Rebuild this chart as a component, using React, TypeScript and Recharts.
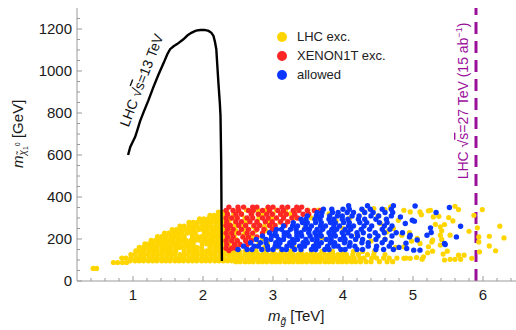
import React from 'react';
import { ComposedChart, Scatter, Line, XAxis, YAxis, ReferenceLine, Legend } from 'recharts';

const FONT = '"Liberation Sans", Arial, Helvetica, sans-serif';
const FRAME = '#9a9a9a';
const YELLOW = '#FFD500';
const RED = '#FF2626';
const BLUE = '#0A36FF';
const PURPLE = '#9B109B';

// axis ticks (minor + major)
const gluinoTicks = [0.4, 0.6, 0.8, 1, 1.2, 1.4, 1.6, 1.8, 2, 2.2, 2.4, 2.6, 2.8, 3, 3.2, 3.4, 3.6, 3.8, 4, 4.2, 4.4, 4.6, 4.8, 5, 5.2, 5.4, 5.6, 5.8, 6, 6.2, 6.4];
const neutralinoTicks = [0, 50, 100, 150, 200, 250, 300, 350, 400, 450, 500, 550, 600, 650, 700, 750, 800, 850, 900, 950, 1000, 1050, 1100, 1150, 1200, 1250];
const gluinoMajor = [1, 2, 3, 4, 5, 6];
const neutralinoMajor = [0, 200, 400, 600, 800, 1000, 1200];

// LHC 13 TeV exclusion contour (TeV, GeV)
const lhc13X = [0.93, 0.96, 1.0, 1.03, 1.06, 1.1, 1.15, 1.22, 1.29, 1.36, 1.44, 1.49, 1.53, 1.58, 1.63, 1.72, 1.78, 1.84, 1.9, 1.96, 2.02, 2.08, 2.12, 2.15, 2.17, 2.19, 2.2, 2.22, 2.24, 2.25, 2.26, 2.265, 2.27];
const lhc13Y = [600, 637, 665, 685, 716, 760, 803, 860, 922, 980, 1040, 1080, 1104, 1118, 1128, 1151, 1170, 1183, 1192, 1195, 1196, 1191, 1182, 1167, 1140, 1104, 1050, 945, 850, 788, 566, 300, 95];
const lhc27Reach = 5.9;

// scan points, grouped by row: [m_chi (GeV), m_gluino list (TeV)]
const lhcExcRows: [number, number[]][] = [
  [60, [0.43, 0.48]],
  [88, [0.72, 0.78, 0.85, 0.91]],
  [96, [0.96, 1.03, 1.09, 1.15, 1.22, 1.28, 1.34, 1.41, 1.47, 1.53, 1.6, 1.66, 1.72, 1.79, 1.85, 1.91, 1.98, 2.04, 2.1, 2.17, 2.23, 2.29, 2.35, 2.41]],
  [109, [0.84, 0.9, 0.97, 1.04, 1.1, 1.16, 1.23, 1.29, 1.35, 1.42, 1.48, 1.54, 1.61, 1.67, 1.73, 1.8, 1.86, 1.92, 1.99, 2.05, 2.11, 2.18, 2.24, 2.3, 2.37]],
  [126, [0.97, 1.03, 1.1, 1.16, 1.22, 1.29, 1.35, 1.41, 1.48, 1.54, 1.6, 1.67, 1.73, 1.79, 1.86, 1.92, 1.98, 2.05, 2.11, 2.17, 2.24, 2.3, 2.36, 2.42]],
  [143, [1.04, 1.1, 1.16, 1.23, 1.29, 1.35, 1.42, 1.48, 1.54, 1.61, 1.73, 1.8, 1.86, 1.92, 1.99, 2.05, 2.11, 2.18, 2.24, 2.3, 2.37]],
  [160, [1.09, 1.15, 1.22, 1.28, 1.34, 1.41, 1.47, 1.53, 1.6, 1.66, 1.72, 1.79, 1.85, 1.91, 1.98, 2.1, 2.17, 2.23, 2.29, 2.36, 2.42]],
  [177, [1.17, 1.23, 1.29, 1.36, 1.42, 1.48, 1.55, 1.61, 1.67, 1.74, 1.8, 1.86, 1.99, 2.05, 2.12, 2.18, 2.24, 2.31, 2.37]],
  [194, [1.26, 1.32, 1.38, 1.45, 1.51, 1.57, 1.64, 1.7, 1.76, 1.83, 1.89, 1.95, 2.02, 2.08, 2.14, 2.21, 2.27, 2.33, 2.4]],
  [211, [1.35, 1.41, 1.47, 1.54, 1.6, 1.66, 1.73, 1.85, 1.92, 1.98, 2.04, 2.11, 2.17, 2.23, 2.3, 2.36]],
  [228, [1.45, 1.51, 1.58, 1.64, 1.7, 1.77, 1.83, 1.89, 2.02, 2.08, 2.15, 2.21, 2.27, 2.34, 2.4]],
  [245, [1.56, 1.62, 1.68, 1.75, 1.81, 1.87, 1.94, 2.0, 2.06, 2.13, 2.19, 2.25, 2.32, 2.38]],
  [262, [1.67, 1.73, 1.8, 1.86, 1.92, 1.99, 2.05, 2.11, 2.18, 2.24, 2.3, 2.36]],
  [279, [1.8, 1.86, 1.92, 1.99, 2.05, 2.11, 2.18, 2.24, 2.3, 2.37]],
  [296, [1.95, 2.01, 2.07, 2.14, 2.2, 2.26, 2.33, 2.39]],
  [313, [2.1, 2.16, 2.22, 2.29, 2.35]],
  [328, [2.22, 2.28, 2.34]],
  // band below the allowed / XENON points
  [92, [2.47, 2.53, 2.6, 2.66, 2.72, 2.79, 2.85, 2.91, 2.98, 3.04, 3.1, 3.17, 3.23, 3.29, 3.36, 3.42, 3.48, 3.55, 3.61, 3.67, 3.74, 3.8, 3.86, 3.93, 3.99, 4.05, 4.12, 4.18, 4.25, 4.33, 4.4, 4.52, 4.63, 4.71]],
  [109, [2.44, 2.5, 2.56, 2.63, 2.69, 2.75, 2.82, 2.88, 2.94, 3.01, 3.07, 3.13, 3.2, 3.26, 3.32, 3.39, 3.45, 3.51, 3.58, 3.64, 3.7, 3.77, 3.83, 3.89, 3.96, 4.02, 4.09, 4.16, 4.24, 4.3, 4.41, 4.48, 4.58, 4.66, 4.77, 4.9]],
  [126, [2.47, 2.53, 2.6, 2.66, 2.72, 2.79, 2.85, 2.91, 2.98, 3.04, 3.1, 3.17, 3.23, 3.29, 3.36, 3.42, 3.48, 3.55, 3.61, 3.67, 3.74, 3.8, 3.86, 3.93, 3.99, 4.05, 4.14, 4.22, 4.35, 4.44, 4.6]],
  [141, [2.44, 2.52, 2.6, 2.68, 2.76, 2.9, 3.0, 3.12, 3.25, 3.4, 3.55, 3.7, 3.85, 4.0, 4.15, 4.28, 4.45]],
  [160, [2.48, 2.62, 2.75, 2.88, 3.05]],
  [180, [2.5, 2.65, 2.8, 2.92]],
  [200, [2.47, 2.6, 2.72, 2.85]],
  [220, [2.45, 2.58, 2.7]],
  [240, [2.47, 2.6, 2.75, 2.9]],
  [260, [2.45, 2.58, 2.72, 2.88, 3.0]],
  [280, [2.46, 2.62, 2.78, 2.95, 3.1]],
  [300, [2.45, 2.6, 2.8, 2.98, 3.15, 3.3]],
  [320, [2.44, 2.55, 2.7, 2.85, 3.0, 3.12, 3.25]],
  [338, [2.5, 2.62, 2.78, 2.9, 3.05, 3.18, 3.32, 3.5, 3.65]],
];

const lhcExcLoose: [number, number][] = [
  [3.55, 300], [3.62, 330], [3.8, 320], [3.9, 285], [3.45, 250], [3.7, 205], [4.0, 250], [4.1, 300],
  [4.3, 330], [4.5, 310], [4.6, 340], [4.44, 345], [4.68, 353], [4.87, 337], [4.96, 329], [4.79, 289],
  [4.72, 250], [4.53, 274], [4.63, 234], [4.84, 218], [5.06, 203], [5.1, 179], [5.15, 115], [5.25, 337],
  [5.39, 258], [4.95, 230], [4.98, 190], [4.4, 190], [4.2, 220], [3.6, 170], [3.3, 160], [4.75, 160],
  [4.6, 200], [5.6, 356], [5.65, 340], [5.99, 340], [5.87, 313], [6.24, 261], [6.3, 205], [6.09, 213],
  [6.09, 167], [6.18, 144], [5.92, 253], [5.8, 237], [5.94, 210], [5.94, 186], [5.95, 139], [5.84, 108],
  [5.73, 123], [5.68, 103], [5.6, 103], [5.53, 103], [5.45, 100], [5.43, 128], [5.65, 123], [5.49, 142],
  [5.39, 171], [5.41, 198], [5.39, 218], [5.27, 186], [5.22, 163], [5.13, 104], [5.05, 112], [4.96, 108],
  [4.87, 108], [5.51, 302], [5.57, 286], [5.45, 269], [5.32, 270], [5.41, 239], [5.53, 218], [5.28, 195],
  [5.1, 329], [5.22, 334], [5.29, 305], [5.37, 308], [5.12, 316], [5.28, 142], [5.21, 134], [4.87, 163],
];

const xenonExcRows: [number, number[]][] = [
  [352, [2.37, 2.5, 2.58, 2.71, 2.77, 2.93, 3.0, 3.13, 3.21, 3.34, 3.41]],
  [336, [2.33, 2.43, 2.51, 2.65, 2.72, 2.85, 2.95, 3.07, 3.15, 3.29, 3.37, 3.49, 3.59, 3.68]],
  [318, [2.35, 2.47, 2.55, 2.69, 2.79, 2.91, 2.99, 3.11, 3.19, 3.31, 3.43, 3.51]],
  [300, [2.33, 2.41, 2.49, 2.63, 2.71, 2.85, 2.93, 3.05, 3.15, 3.27, 3.35]],
  [282, [2.34, 2.47, 2.55, 2.67, 2.77, 2.89, 2.99, 3.11, 3.21]],
  [264, [2.33, 2.39, 2.51, 2.61, 2.73, 2.81, 2.95, 3.03, 3.17]],
  [246, [2.35, 2.43, 2.55, 2.65, 2.77, 2.87, 2.99]],
  [228, [2.33, 2.41, 2.51, 2.63, 2.71, 2.85]],
  [210, [2.35, 2.43, 2.57, 2.65, 2.77]],
  [192, [2.33, 2.41, 2.49, 2.61, 2.69]],
  [174, [2.34, 2.45, 2.53, 2.63]],
  [156, [2.33, 2.41, 2.47]],
  [145, [2.37]],
];

const allowedRows: [number, number[]][] = [
  [150, [2.5, 2.63, 2.7, 2.84, 2.93, 3.0, 3.13, 3.19, 3.31, 3.4, 3.55, 3.61, 3.74, 3.8, 3.97, 4.03, 4.2, 4.28, 4.47, 4.58, 4.72]],
  [166, [2.58, 2.73, 2.79, 2.92, 3.03, 3.08, 3.2, 3.27, 3.38, 3.45, 3.58, 3.65, 3.78, 3.87, 3.93, 4.09, 4.17, 4.36, 4.48, 4.66]],
  [182, [2.68, 2.82, 2.9, 3.04, 3.1, 3.24, 3.3, 3.43, 3.49, 3.62, 3.69, 3.82, 3.88, 4.02, 4.1, 4.27, 4.36, 4.56, 4.69]],
  [198, [2.76, 2.9, 2.97, 3.08, 3.15, 3.28, 3.35, 3.47, 3.56, 3.63, 3.76, 3.83, 3.96, 4.03, 4.18, 4.28, 4.47, 4.6]],
  [214, [2.85, 2.98, 3.05, 3.16, 3.23, 3.34, 3.41, 3.53, 3.62, 3.69, 3.82, 3.89, 4.01, 4.12, 4.21, 4.38, 4.5, 4.7]],
  [230, [2.95, 3.03, 3.16, 3.21, 3.34, 3.4, 3.51, 3.6, 3.67, 3.8, 3.87, 3.99, 4.07, 4.2, 4.29, 4.46, 4.59, 4.76]],
  [246, [3.05, 3.12, 3.25, 3.33, 3.45, 3.52, 3.63, 3.71, 3.84, 3.91, 4.03, 4.11, 4.26, 4.38, 4.56, 4.67]],
  [262, [3.15, 3.28, 3.35, 3.47, 3.55, 3.68, 3.75, 3.87, 3.95, 4.08, 4.15, 4.3, 4.41, 4.59, 4.7]],
  [278, [3.29, 3.42, 3.49, 3.61, 3.69, 3.82, 3.89, 4.01, 4.09, 4.24, 4.34, 4.52, 4.63]],
  [294, [3.4, 3.47, 3.6, 3.67, 3.8, 3.87, 3.99, 4.07, 4.22, 4.31, 4.47, 4.62]],
  [310, [3.49, 3.62, 3.69, 3.81, 3.92, 3.99, 4.13, 4.23, 4.4, 4.51, 4.69]],
  [326, [3.63, 3.7, 3.85, 3.93, 4.06, 4.15, 4.31, 4.43, 4.6, 4.71]],
  [342, [3.72, 3.84, 4.0, 4.09, 4.27, 4.39, 4.56, 4.69]],
  [358, [4.08, 4.35, 4.72]],
];

const allowedLoose: [number, number][] = [
  [5.03, 357], [5.52, 350], [5.33, 326], [5.68, 261], [5.62, 210], [5.45, 179], [5.25, 253], [5.26, 231],
  [5.2, 218], [5.06, 195], [5.01, 147], [5.02, 285], [4.89, 274], [4.82, 305], [4.85, 230], [4.9, 180],
  [4.95, 210], [4.8, 160], [4.99, 289], [4.96, 218], [4.91, 155], [5.1, 147], [5.46, 174],
];

const legendItems = [
  { label: 'LHC exc.', color: YELLOW },
  { label: 'XENON1T exc.', color: RED },
  { label: 'allowed', color: BLUE },
];

const fromRows = (rows: [number, number[]][]) => rows.flatMap(([y, xs]) => xs.map((x) => ({ x, y })));
const fromPairs = (pairs: [number, number][]) => pairs.map(([x, y]) => ({ x, y }));

const lhcExcData = [...fromRows(lhcExcRows), ...fromPairs(lhcExcLoose)];
const xenonExcData = fromRows(xenonExcRows);
const allowedData = [...fromRows(allowedRows), ...fromPairs(allowedLoose)];
const lhc13Data = lhc13X.map((x, i) => ({ x, y: lhc13Y[i] }));

const dot = (color: string, r: number) => (props: any) =>
  <circle cx={props.cx} cy={props.cy} r={r} fill={color} />;

function BottomTick({ x, y, payload }: any) {
  const major = gluinoMajor.includes(payload.value);
  return (
    <g>
      <line x1={x} x2={x} y1={y} y2={y - (major ? 5 : 3)} stroke={FRAME} />
      {major && (
        <text x={x} y={y + 19} textAnchor="middle" fontSize={15} fontFamily={FONT} fill="#1a1a1a">
          {payload.value}
        </text>
      )}
    </g>
  );
}

function TopTick({ x, y, payload }: any) {
  const major = gluinoMajor.includes(payload.value);
  return <line x1={x} x2={x} y1={y} y2={y + (major ? 5 : 3)} stroke={FRAME} />;
}

function LeftTick({ x, y, payload }: any) {
  const major = neutralinoMajor.includes(payload.value);
  return (
    <g>
      <line x1={x} x2={x + (major ? 5 : 3)} y1={y} y2={y} stroke={FRAME} />
      {major && (
        <text x={x - 5} y={y} dy="0.36em" textAnchor="end" fontSize={15} fontFamily={FONT} fill="#1a1a1a">
          {payload.value}
        </text>
      )}
    </g>
  );
}

function LegendBox() {
  return (
    <div style={{ fontFamily: FONT, fontSize: 13, color: '#222' }}>
      {legendItems.map((item) => (
        <div key={item.label} style={{ display: 'flex', alignItems: 'center', height: 19.2 }}>
          <svg width={12} height={12} style={{ marginRight: 9 }}>
            <circle cx={6} cy={6} r={5} fill={item.color} />
          </svg>
          <span>{item.label}</span>
        </div>
      ))}
    </div>
  );
}

function Annotations() {
  return (
    <svg width={516} height={330} style={{ position: 'absolute', left: 0, top: 0, pointerEvents: 'none' }}>
      <text transform="translate(146,82) rotate(-69)" textAnchor="middle" fontSize={14} fontFamily={FONT} fill="#111">
        LHC √<tspan style={{ textDecoration: 'overline' }}>s</tspan>=13 TeV
      </text>
      <text transform="translate(468,101) rotate(-90)" textAnchor="middle" fontSize={14} fontFamily={FONT} fill={PURPLE}>
        LHC √<tspan style={{ textDecoration: 'overline' }}>s</tspan>=27 TeV (15 ab
        <tspan fontSize={9} dy={-6}>−1</tspan>
        <tspan dy={6}>)</tspan>
      </text>
      <text x={268} y={321} fontSize={15} fontFamily={FONT} fill="#1a1a1a">
        <tspan fontStyle="italic">m</tspan>
        <tspan fontSize={10} fontStyle="italic" dy={4}>g̃</tspan>
        <tspan dy={-4}> [TeV]</tspan>
      </text>
      <text transform="translate(23,168) rotate(-90)" fontSize={15} fontFamily={FONT} fill="#1a1a1a">
        <tspan fontStyle="italic">m</tspan>
        <tspan fontSize={10} fontStyle="italic" dy={3}>χ̃</tspan>
        <tspan fontSize={7} dy={2}>1</tspan>
        <tspan fontSize={7} dy={-8}>0</tspan>
        <tspan dy={3}> [GeV]</tspan>
      </text>
    </svg>
  );
}

export default function App() {
  return (
    <div style={{ position: 'relative', width: 516, height: 330, overflow: 'hidden', background: '#fff' }}>
      <style>{'body{margin:0}'}</style>
      <ComposedChart width={530} height={330} margin={{ top: 8, right: 5, bottom: 0, left: 0 }}>
        <XAxis
          dataKey="x"
          type="number"
          domain={[0.2, 6.6]}
          allowDataOverflow
          ticks={gluinoTicks}
          interval={0}
          height={49}
          tickSize={0}
          tickMargin={0}
          tickLine={false}
          axisLine={{ stroke: FRAME }}
          tick={(p: any) => <BottomTick {...p} />}
        />
        <XAxis
          xAxisId="top"
          orientation="top"
          dataKey="x"
          type="number"
          domain={[0.2, 6.6]}
          allowDataOverflow
          ticks={gluinoTicks}
          interval={0}
          height={0}
          tickSize={0}
          tickMargin={0}
          tickLine={false}
          axisLine={{ stroke: FRAME }}
          tick={(p: any) => <TopTick {...p} />}
        />
        <YAxis
          dataKey="y"
          type="number"
          domain={[0, 1300]}
          allowDataOverflow
          ticks={neutralinoTicks}
          interval={0}
          width={77}
          tickSize={0}
          tickMargin={0}
          tickLine={false}
          axisLine={{ stroke: FRAME }}
          tick={(p: any) => <LeftTick {...p} />}
        />
        <Scatter data={lhcExcData} fill={YELLOW} isAnimationActive={false} shape={dot(YELLOW, 2.6)} />
        <Scatter data={xenonExcData} fill={RED} isAnimationActive={false} shape={dot(RED, 2.7)} />
        <Scatter data={allowedData} fill={BLUE} isAnimationActive={false} shape={dot(BLUE, 2.7)} />
        <ReferenceLine x={lhc27Reach} stroke={PURPLE} strokeWidth={3} strokeDasharray="12 7" />
        <Line
          data={lhc13Data}
          dataKey="y"
          type="linear"
          stroke="#000"
          strokeWidth={2.4}
          dot={false}
          isAnimationActive={false}
          zIndex={700}
        />
        <Legend
          layout="vertical"
          align="center"
          verticalAlign="middle"
          wrapperStyle={{ left: 276, top: 27, width: 140 }}
          content={() => <LegendBox />}
        />
      </ComposedChart>
      <Annotations />
    </div>
  );
}
